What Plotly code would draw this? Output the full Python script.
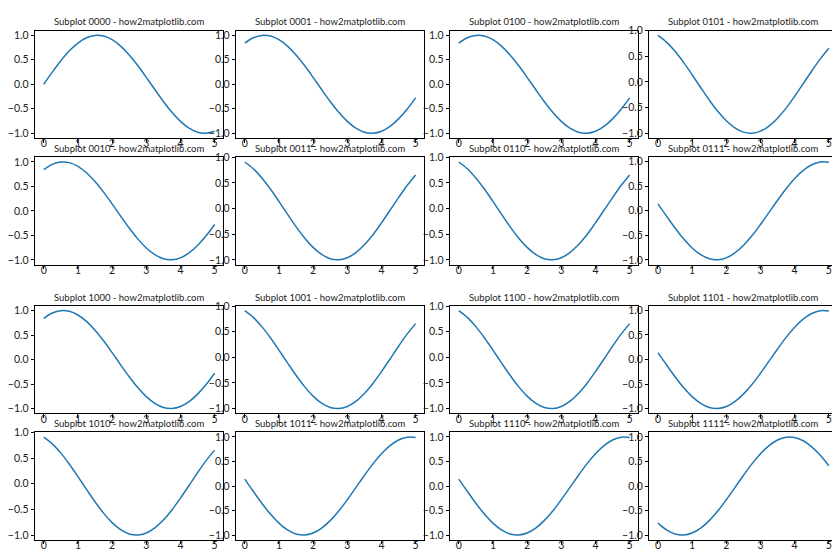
import plotly.graph_objects as go

# ---- data ----
x_values = [0.0, 0.25, 0.5, 0.75, 1.0, 1.25, 1.5, 1.75, 2.0, 2.25, 2.5,
            2.75, 3.0, 3.25, 3.5, 3.75, 4.0, 4.25, 4.5, 4.75, 5.0]

wave_0 = [0.000, 0.247, 0.479, 0.682, 0.841, 0.949, 0.997, 0.984, 0.909, 0.778, 0.598,
          0.382, 0.141, -0.108, -0.351, -0.572, -0.757, -0.895, -0.978, -0.999, -0.959]
wave_1 = [0.841, 0.949, 0.997, 0.984, 0.909, 0.778, 0.598, 0.382, 0.141, -0.108, -0.351,
          -0.572, -0.757, -0.895, -0.978, -0.999, -0.959, -0.859, -0.706, -0.510, -0.279]
wave_2 = [0.909, 0.778, 0.598, 0.382, 0.141, -0.108, -0.351, -0.572, -0.757, -0.895, -0.978,
          -0.999, -0.959, -0.859, -0.706, -0.510, -0.279, -0.033, 0.215, 0.451, 0.657]
wave_3 = [0.141, -0.108, -0.351, -0.572, -0.757, -0.895, -0.978, -0.999, -0.959, -0.859, -0.706,
          -0.510, -0.279, -0.033, 0.215, 0.451, 0.657, 0.823, 0.938, 0.995, 0.989]
wave_4 = [-0.757, -0.895, -0.978, -0.999, -0.959, -0.859, -0.706, -0.510, -0.279, -0.033, 0.215,
          0.451, 0.657, 0.823, 0.938, 0.995, 0.989, 0.923, 0.798, 0.625, 0.412]

panel_codes = ["0000", "0001", "0100", "0101",
               "0010", "0011", "0110", "0111",
               "1000", "1001", "1100", "1101",
               "1010", "1011", "1110", "1111"]
panel_wave = [0, 1, 1, 2,
              1, 2, 2, 3,
              1, 2, 2, 3,
              2, 3, 3, 4]

x_ticks = [0, 1, 2, 3, 4, 5]
y_ticks = [-1.0, -0.5, 0.0, 0.5, 1.0]

waves = [wave_0, wave_1, wave_2, wave_3, wave_4]

# ---- layout geometry (pixels) ----
W, H = 840, 560
col_left = [27.2, 228.2, 442.2, 641.4]
col_width = 188.0
row_top = [22.5, 149.1, 297.8, 424.3]
row_height = 107.6

fig = go.Figure()
annotations = []
tick_font = dict(family="Lato, 'Noto Sans', sans-serif", size=10.5, color="#222222")

for i, code in enumerate(panel_codes):
    r, c = divmod(i, 4)
    n = i + 1
    xa = "x" if n == 1 else f"x{n}"
    ya = "y" if n == 1 else f"y{n}"
    ys = waves[panel_wave[i]]
    fig.add_trace(go.Scatter(
        x=x_values, y=ys, mode="lines",
        line=dict(color="#1f77b4", width=1.5, shape="spline"),
        xaxis=xa, yaxis=ya, showlegend=False, hoverinfo="skip"))

    x0 = col_left[c] / W
    x1 = (col_left[c] + col_width) / W
    y1 = 1 - row_top[r] / H
    y0 = 1 - (row_top[r] + row_height) / H

    lo, hi = min(ys), max(ys)
    pad = 0.05 * (hi - lo)
    xmin, xmax = min(x_values), max(x_values)
    xpad = 0.05 * (xmax - xmin)

    common = dict(showline=True, mirror=True, linecolor="#000000", linewidth=1,
                  ticks="outside", ticklen=3.5, tickwidth=0.8, tickcolor="#000000",
                  showgrid=False, zeroline=False, tickfont=tick_font, fixedrange=True,
                  automargin=False)
    fig.layout[f"xaxis{'' if n == 1 else n}"] = dict(
        domain=[x0, x1], anchor=ya, range=[xmin - xpad, xmax + xpad],
        tickvals=x_ticks, ticktext=[str(t) for t in x_ticks],
        ticklabelstandoff=-8, **common)
    fig.layout[f"yaxis{'' if n == 1 else n}"] = dict(
        domain=[y0, y1], anchor=xa, range=[lo - pad, hi + pad],
        tickvals=y_ticks, tickformat=".1f", **common)

    annotations.append(dict(
        text=f"Subplot {code} - how2matplotlib.com",
        x=(col_left[c] + col_width / 2) / W, xref="paper", xanchor="center",
        y=1 - (row_top[r] - 8.8) / H, yref="paper", yanchor="middle",
        showarrow=False, font=dict(family="Lato, 'Noto Sans', sans-serif", size=9.5, color="#222222")))

fig.update_layout(
    width=W, height=H, margin=dict(l=0, r=0, t=0, b=0),
    paper_bgcolor="white", plot_bgcolor="white",
    annotations=annotations, showlegend=False)

fig.write_html("out.html")
